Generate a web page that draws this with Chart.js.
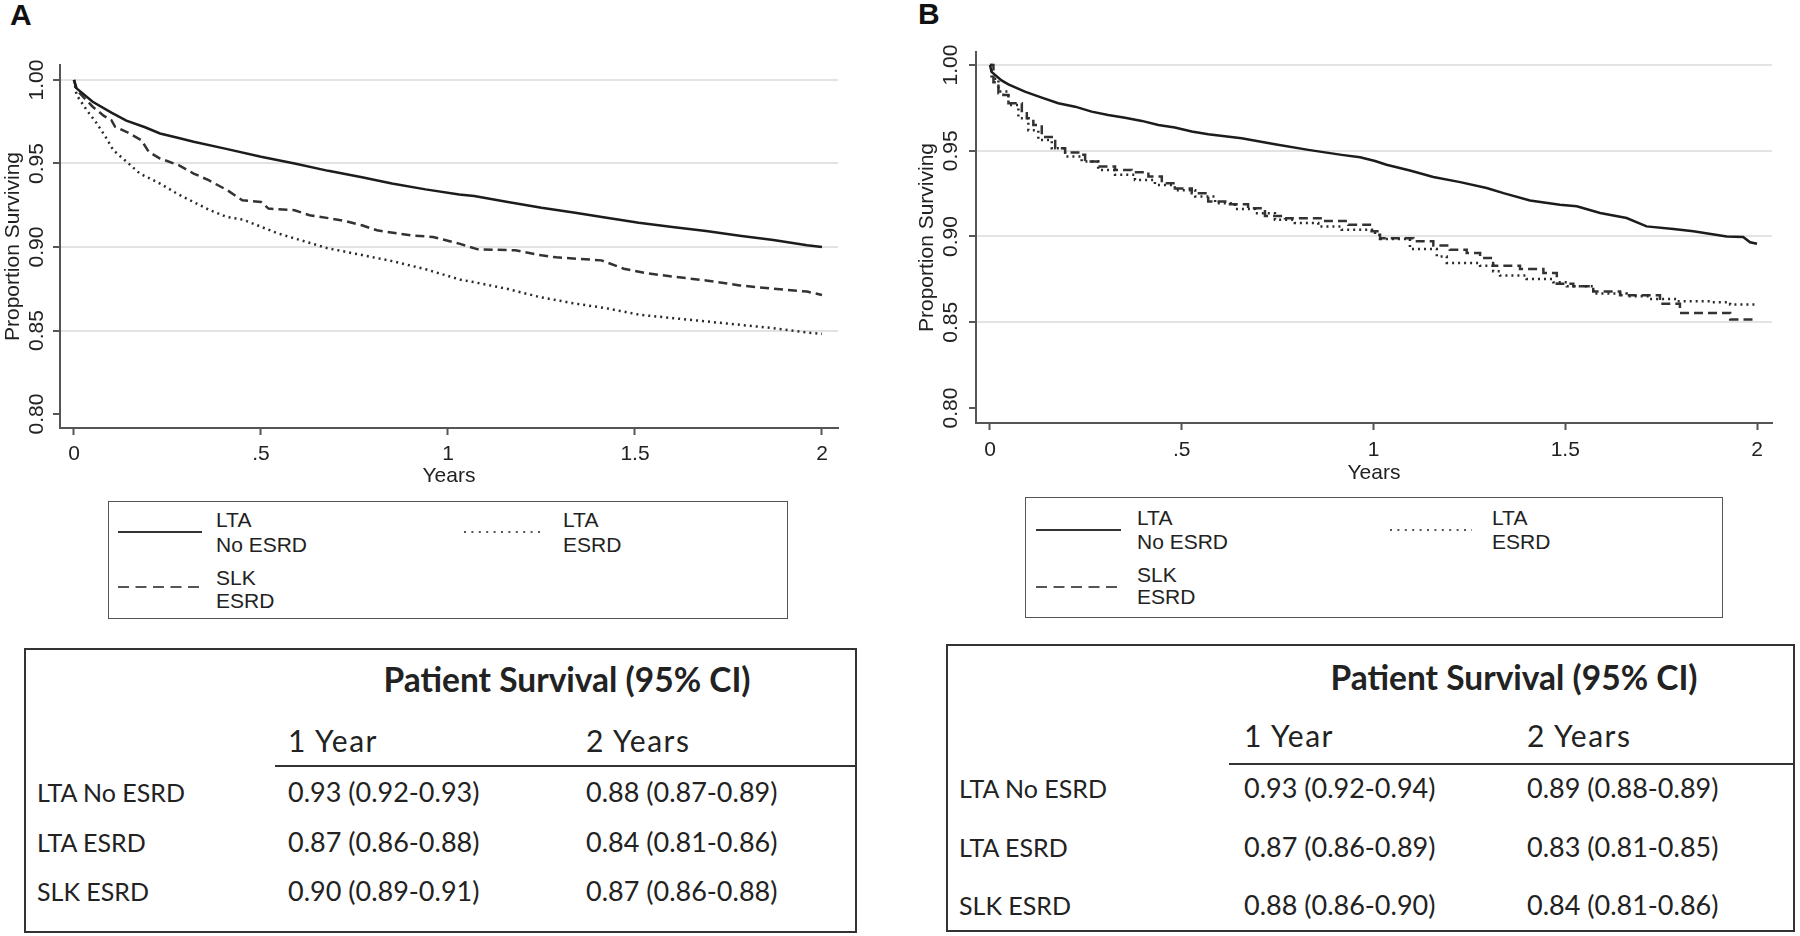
<!DOCTYPE html>
<html>
<head>
<meta charset="utf-8">
<title>Patient survival</title>
<script src="https://cdn.jsdelivr.net/npm/chart.js@4.4.1/dist/chart.umd.min.js"></script>
<style>
  html, body { margin: 0; padding: 0; background: #fff; }
  body { width: 1800px; height: 936px; position: relative; overflow: hidden;
         font-family: "Liberation Sans", Arial, sans-serif; color: #222; }
  canvas { position: absolute; }
  .tag { position: absolute; font-weight: bold; font-size: 30px; line-height: 30px; color: #111; }
  .box { position: absolute; box-sizing: border-box; }
  .lg { border: 1.5px solid #555; }
  .tb { border: 2px solid #333; }
  .txt { position: absolute; white-space: nowrap; transform: translateY(-50%); }
  .lgtxt { font-size: 21px; line-height: 22px; color: #222; }
  .cell { font-family: Lato, "Open Sans", sans-serif; font-size: 27px; line-height: 32px; color: #222; }
  .cell.name { font-size: 25px; }
  .head { font-family: Lato, "Open Sans", sans-serif; font-size: 30px; line-height: 36px; letter-spacing: 1.5px; color: #222; }
  .ttl { font-family: Lato, "Open Sans", sans-serif; font-weight: bold; font-size: 33.5px; line-height: 40px;
         color: #222; transform: translate(-50%, -50%); }
  .rule { position: absolute; height: 2px; background: #333; }
  svg { position: absolute; overflow: visible; }
</style>
</head>
<body>
<div class="tag" style="left:10px;top:0">A</div>
<div class="tag" style="left:918px;top:-1px">B</div>
<canvas id="chartA" width="860" height="495" style="left:0;top:0"></canvas>
<canvas id="chartB" width="876" height="492" style="left:914px;top:0"></canvas>
<script>
  // ── axis ticks ─────────────────────────────
  const xTickValues = [0, 0.5, 1, 1.5, 2];
  const xTickLabels = ["0", ".5", "1", "1.5", "2"];
  const yTickValues = [0.8, 0.85, 0.9, 0.95, 1.0];
  const yTickLabels = ["0.80", "0.85", "0.90", "0.95", "1.00"];

  // ── panel A curves (years, proportion surviving) ──
  const aNoEsrdX = [0, 0.007, 0.05, 0.1, 0.14, 0.19, 0.23, 0.28, 0.32, 0.41, 0.5, 0.59, 0.68, 0.77, 0.85, 0.94, 1.03, 1.07, 1.16, 1.25, 1.34, 1.42, 1.51, 1.6, 1.69, 1.78, 1.87, 1.96, 2.0];
  const aNoEsrdY = [1.0, 0.995, 0.987, 0.9805, 0.9757, 0.9717, 0.968, 0.9653, 0.963, 0.9586, 0.954, 0.95, 0.9456, 0.9418, 0.938, 0.9345, 0.9315, 0.9305, 0.927, 0.9235, 0.9205, 0.9177, 0.9145, 0.912, 0.9096, 0.9068, 0.9042, 0.901, 0.9];

  const aLtaEsrdX = [0, 0.007, 0.034, 0.061, 0.087, 0.105, 0.141, 0.176, 0.23, 0.275, 0.319, 0.364, 0.408, 0.453, 0.497, 0.542, 0.586, 0.631, 0.676, 0.72, 0.765, 0.854, 0.943, 1.032, 1.068, 1.157, 1.246, 1.335, 1.424, 1.513, 1.602, 1.692, 1.781, 1.87, 1.959, 2.0];
  const aLtaEsrdY = [1.0, 0.991, 0.982, 0.974, 0.965, 0.958, 0.951, 0.944, 0.938, 0.932, 0.927, 0.922, 0.918, 0.9163, 0.9124, 0.9084, 0.9054, 0.9024, 0.8994, 0.8974, 0.8954, 0.8914, 0.8865, 0.8805, 0.879, 0.875, 0.87, 0.8663, 0.8633, 0.8594, 0.8574, 0.8554, 0.8534, 0.8514, 0.8488, 0.848];

  const aSlkEsrdX = [0, 0.007, 0.05, 0.08, 0.1, 0.11, 0.14, 0.18, 0.2, 0.23, 0.28, 0.32, 0.36, 0.41, 0.45, 0.5, 0.52, 0.59, 0.63, 0.68, 0.73, 0.77, 0.81, 0.9, 0.96, 1.03, 1.08, 1.18, 1.25, 1.29, 1.41, 1.47, 1.53, 1.6, 1.69, 1.78, 1.87, 1.96, 2.0];
  const aSlkEsrdY = [1.0, 0.994, 0.984, 0.9785, 0.976, 0.972, 0.969, 0.964, 0.957, 0.953, 0.949, 0.944, 0.94, 0.934, 0.928, 0.927, 0.923, 0.922, 0.919, 0.9173, 0.9153, 0.913, 0.91, 0.907, 0.906, 0.902, 0.8986, 0.898, 0.895, 0.8938, 0.892, 0.887, 0.8843, 0.8823, 0.88, 0.877, 0.875, 0.8733, 0.8713];

  // ── panel B curves ─────────────────────────
  const bNoEsrdX = [0, 0.004, 0.03, 0.048, 0.091, 0.135, 0.178, 0.222, 0.265, 0.308, 0.352, 0.396, 0.439, 0.482, 0.526, 0.569, 0.656, 0.743, 0.83, 0.917, 0.965, 1.004, 1.034, 1.095, 1.156, 1.226, 1.295, 1.339, 1.408, 1.486, 1.53, 1.591, 1.66, 1.712, 1.782, 1.834, 1.921, 1.964, 1.982, 2.0];
  const bNoEsrdY = [1.0, 0.996, 0.991, 0.9887, 0.9845, 0.981, 0.9777, 0.9757, 0.9728, 0.9709, 0.9693, 0.9674, 0.965, 0.9635, 0.9612, 0.9596, 0.9573, 0.9538, 0.9505, 0.9476, 0.9462, 0.944, 0.9418, 0.9385, 0.9347, 0.9317, 0.9283, 0.9253, 0.921, 0.9185, 0.9176, 0.9137, 0.9108, 0.9059, 0.9044, 0.903, 0.9, 0.8997, 0.8966, 0.8958];

  const bLtaEsrdX = [0, 0.004, 0.022, 0.048, 0.074, 0.1, 0.126, 0.161, 0.196, 0.239, 0.282, 0.326, 0.378, 0.43, 0.482, 0.535, 0.587, 0.639, 0.691, 0.743, 0.795, 0.856, 0.917, 1.004, 1.017, 1.095, 1.165, 1.191, 1.278, 1.312, 1.33, 1.399, 1.469, 1.504, 1.573, 1.66, 1.721, 1.79, 1.877, 1.93, 2.0];
  const bLtaEsrdY = [1.0, 0.992, 0.9845, 0.9767, 0.969, 0.962, 0.9563, 0.9515, 0.9466, 0.9437, 0.9388, 0.936, 0.933, 0.93, 0.927, 0.9233, 0.9194, 0.916, 0.9136, 0.9097, 0.9078, 0.9058, 0.9039, 0.901, 0.8985, 0.8927, 0.8884, 0.8846, 0.883, 0.8797, 0.8772, 0.8752, 0.8733, 0.871, 0.8667, 0.8651, 0.8636, 0.8622, 0.8617, 0.8603, 0.86];

  const bSlkEsrdX = [0, 0.009, 0.022, 0.035, 0.048, 0.083, 0.096, 0.113, 0.135, 0.17, 0.196, 0.23, 0.248, 0.282, 0.326, 0.369, 0.413, 0.448, 0.482, 0.526, 0.569, 0.621, 0.673, 0.717, 0.769, 0.874, 0.934, 0.995, 1.017, 1.104, 1.156, 1.199, 1.243, 1.278, 1.312, 1.382, 1.443, 1.478, 1.521, 1.573, 1.643, 1.747, 1.799, 1.93, 2.0];
  const bSlkEsrdY = [1.0, 0.99, 0.9835, 0.9825, 0.9777, 0.9718, 0.969, 0.965, 0.958, 0.9515, 0.949, 0.9476, 0.9437, 0.9408, 0.9388, 0.9375, 0.935, 0.931, 0.928, 0.9252, 0.9204, 0.9188, 0.9165, 0.912, 0.9107, 0.909, 0.9068, 0.903, 0.899, 0.8972, 0.8947, 0.8923, 0.8904, 0.8875, 0.883, 0.8811, 0.8787, 0.8725, 0.871, 0.868, 0.8657, 0.8608, 0.8554, 0.8516, 0.8516];

  // ── survival tables ────────────────────────
  const tableTitle = "Patient Survival (95% CI)";
  const tableHeads = ["1 Year", "2 Years"];
  const rowNames = ["LTA No ESRD", "LTA ESRD", "SLK ESRD"];
  const aOneYear = ["0.93 (0.92-0.93)", "0.87 (0.86-0.88)", "0.90 (0.89-0.91)"];
  const aTwoYears = ["0.88 (0.87-0.89)", "0.84 (0.81-0.86)", "0.87 (0.86-0.88)"];
  const bOneYear = ["0.93 (0.92-0.94)", "0.87 (0.86-0.89)", "0.88 (0.86-0.90)"];
  const bTwoYears = ["0.89 (0.88-0.89)", "0.83 (0.81-0.85)", "0.84 (0.81-0.86)"];

  // ── line styles ────────────────────────────
  const STYLE = {
    solid:  { borderColor: "#1c1c1c", borderWidth: 2.5, borderDash: [] },
    dotted: { borderColor: "#2a2a2a", borderWidth: 2.5, borderDash: [2, 4] },
    dashed: { borderColor: "#333333", borderWidth: 2.5, borderDash: [9, 5] }
  };
  const SVG_DASH = { solid: "", dotted: "2 5.4", dashed: "11 6.5" };
  const AXIS = "#555";
  const TEXT = "#222";

  Chart.defaults.font.family = "'Liberation Sans', Arial, sans-serif";
  Chart.defaults.font.size = 21;
  Chart.defaults.color = TEXT;

  function buildPanel(id, L, series) {
    const pts = (xs, ys) => xs.map((x, i) => ({ x, y: ys[i] }));
    return new Chart(document.getElementById(id), {
      type: "line",
      data: {
        datasets: series.map(s => ({
          label: s.label,
          data: pts(s.x, s.y),
          ...STYLE[s.style],
          stepped: s.stepped || false,
          pointRadius: 0,
          fill: false,
          tension: 0
        }))
      },
      options: {
        responsive: false,
        animation: false,
        devicePixelRatio: 1,
        layout: { padding: { top: L.top, right: L.right, left: 0, bottom: 0 } },
        plugins: { legend: { display: false }, tooltip: { enabled: false } },
        scales: {
          x: {
            type: "linear",
            min: L.xMin,
            max: L.xMax,
            afterBuildTicks: (s) => { s.ticks = xTickValues.map(v => ({ value: v })); },
            afterFit: (s) => { s.height = L.xAxisH; },
            ticks: { callback: (v, i) => xTickLabels[i], maxRotation: 0, autoSkip: false, padding: L.xPad, color: TEXT },
            grid: { drawOnChartArea: false, drawTicks: true, tickLength: 7, tickColor: AXIS, tickWidth: 2 },
            border: { color: AXIS, width: 2 },
            title: { display: true, text: "Years", color: TEXT, padding: { top: 0, bottom: 6 } }
          },
          y: {
            min: L.yMin,
            max: L.yMax,
            afterBuildTicks: (s) => { s.ticks = yTickValues.map(v => ({ value: v })); },
            afterFit: (s) => { s.width = L.yAxisW; },
            ticks: {
              callback: (v, i) => yTickLabels[i],
              minRotation: 90, maxRotation: 90,
              crossAlign: "center",
              padding: L.yPad,
              autoSkip: false,
              color: TEXT
            },
            grid: {
              color: (ctx) => (ctx.tick && ctx.tick.value === 0.8) ? "rgba(0,0,0,0)" : "#e3e3e3",
              lineWidth: 2,
              drawTicks: true, tickLength: 7, tickColor: AXIS, tickWidth: 2
            },
            border: { color: AXIS, width: 2 },
            title: { display: true, text: "Proportion Surviving", color: TEXT,
                     font: { size: 21, lineHeight: 1.1 }, padding: { top: 2, bottom: 0 } }
          }
        }
      }
    });
  }

  buildPanel("chartA",
    { top: 65, right: 22, yAxisW: 60, xAxisH: 67, xPad: 7, yPad: -5,
      xMin: -0.0374, xMax: 2.0428, yMin: 0.79162, yMax: 1.00898 },
    [
      { label: "LTA No ESRD", x: aNoEsrdX, y: aNoEsrdY, style: "solid" },
      { label: "LTA ESRD", x: aLtaEsrdX, y: aLtaEsrdY, style: "dotted" },
      { label: "SLK ESRD", x: aSlkEsrdX, y: aSlkEsrdY, style: "dashed" }
    ]);

  buildPanel("chartB",
    { top: 52, right: 18, yAxisW: 62, xAxisH: 69, xPad: 8, yPad: -3,
      xMin: -0.0365, xMax: 2.0391, yMin: 0.79125, yMax: 1.00758 },
    [
      { label: "LTA No ESRD", x: bNoEsrdX, y: bNoEsrdY, style: "solid" },
      { label: "LTA ESRD", x: bLtaEsrdX, y: bLtaEsrdY, style: "dotted", stepped: true },
      { label: "SLK ESRD", x: bSlkEsrdX, y: bSlkEsrdY, style: "dashed", stepped: true }
    ]);

  /* ── legends & tables (plain DOM) ──────────────────────── */
  function el(tag, cls, css, text) {
    const d = document.createElement(tag);
    if (cls) d.className = cls;
    Object.assign(d.style, css);
    if (text != null) d.textContent = text;
    document.body.appendChild(d);
    return d;
  }

  function sample(style, x1, x2, y) {
    const ns = "http://www.w3.org/2000/svg";
    const svg = document.createElementNS(ns, "svg");
    svg.setAttribute("width", x2 - x1);
    svg.setAttribute("height", 6);
    svg.style.left = x1 + "px";
    svg.style.top = (y - 3) + "px";
    const ln = document.createElementNS(ns, "line");
    ln.setAttribute("x1", 0); ln.setAttribute("x2", x2 - x1);
    ln.setAttribute("y1", 3); ln.setAttribute("y2", 3);
    ln.setAttribute("stroke", style === "solid" ? "#333" : "#555");
    ln.setAttribute("stroke-width", 2);
    if (SVG_DASH[style]) ln.setAttribute("stroke-dasharray", SVG_DASH[style]);
    svg.appendChild(ln);
    document.body.appendChild(svg);
  }

  function legend(L) {
    el("div", "box lg", { left: L.box[0] + "px", top: L.box[1] + "px", width: L.box[2] + "px", height: L.box[3] + "px" });
    const entries = [
      { style: "solid", lines: ["LTA", "No ESRD"], col: 0, row: 0 },
      { style: "dotted", lines: ["LTA", "ESRD"], col: 1, row: 0 },
      { style: "dashed", lines: ["SLK", "ESRD"], col: 0, row: 1 }
    ];
    entries.forEach(e => {
      const c = L.cols[e.col], r = L.rows[e.row];
      sample(e.style, L.box[0] + c.s1, L.box[0] + c.s2, L.box[1] + r.line);
      e.lines.forEach((t, k) => {
        el("div", "txt lgtxt", { left: (L.box[0] + c.text) + "px", top: (L.box[1] + r.text[k]) + "px" }, t);
      });
    });
  }

  legend({ box: [108, 501, 680, 118],
    cols: [{ s1: 10, s2: 94, text: 108 }, { s1: 356, s2: 437, text: 455 }],
    rows: [{ line: 31, text: [19, 44] }, { line: 86, text: [77, 100] }] });
  legend({ box: [1025, 497, 698, 121],
    cols: [{ s1: 11, s2: 96, text: 112 }, { s1: 365, s2: 447, text: 467 }],
    rows: [{ line: 33, text: [21, 45] }, { line: 90, text: [78, 100] }] });

  function table(T, col1, col2) {
    el("div", "box tb", { left: T.box[0] + "px", top: T.box[1] + "px", width: T.box[2] + "px", height: T.box[3] + "px" });
    el("div", "txt ttl", { left: T.titleX + "px", top: T.titleY + "px" }, tableTitle);
    tableHeads.forEach((h, i) => el("div", "txt head", { left: T.cols[i] + "px", top: T.headY + "px" }, h));
    el("div", "rule", { left: T.rule[0] + "px", width: (T.rule[1] - T.rule[0]) + "px", top: (T.rule[2] - 1) + "px" });
    rowNames.forEach((name, i) => {
      el("div", "txt cell name", { left: T.labelX + "px", top: T.rows[i] + "px" }, name);
      el("div", "txt cell", { left: T.cols[0] + "px", top: T.rows[i] + "px" }, col1[i]);
      el("div", "txt cell", { left: T.cols[1] + "px", top: T.rows[i] + "px" }, col2[i]);
    });
  }

  table({ box: [24, 648, 833, 285], titleX: 567, titleY: 679, headY: 740, cols: [288, 586],
          rule: [275, 857, 766], labelX: 37, rows: [792, 842, 891] }, aOneYear, aTwoYears);
  table({ box: [946, 644, 849, 288], titleX: 1514, titleY: 677, headY: 735, cols: [1244, 1527],
          rule: [1229, 1795, 764], labelX: 959, rows: [788, 847, 905] }, bOneYear, bTwoYears);
</script>
</body>
</html>
